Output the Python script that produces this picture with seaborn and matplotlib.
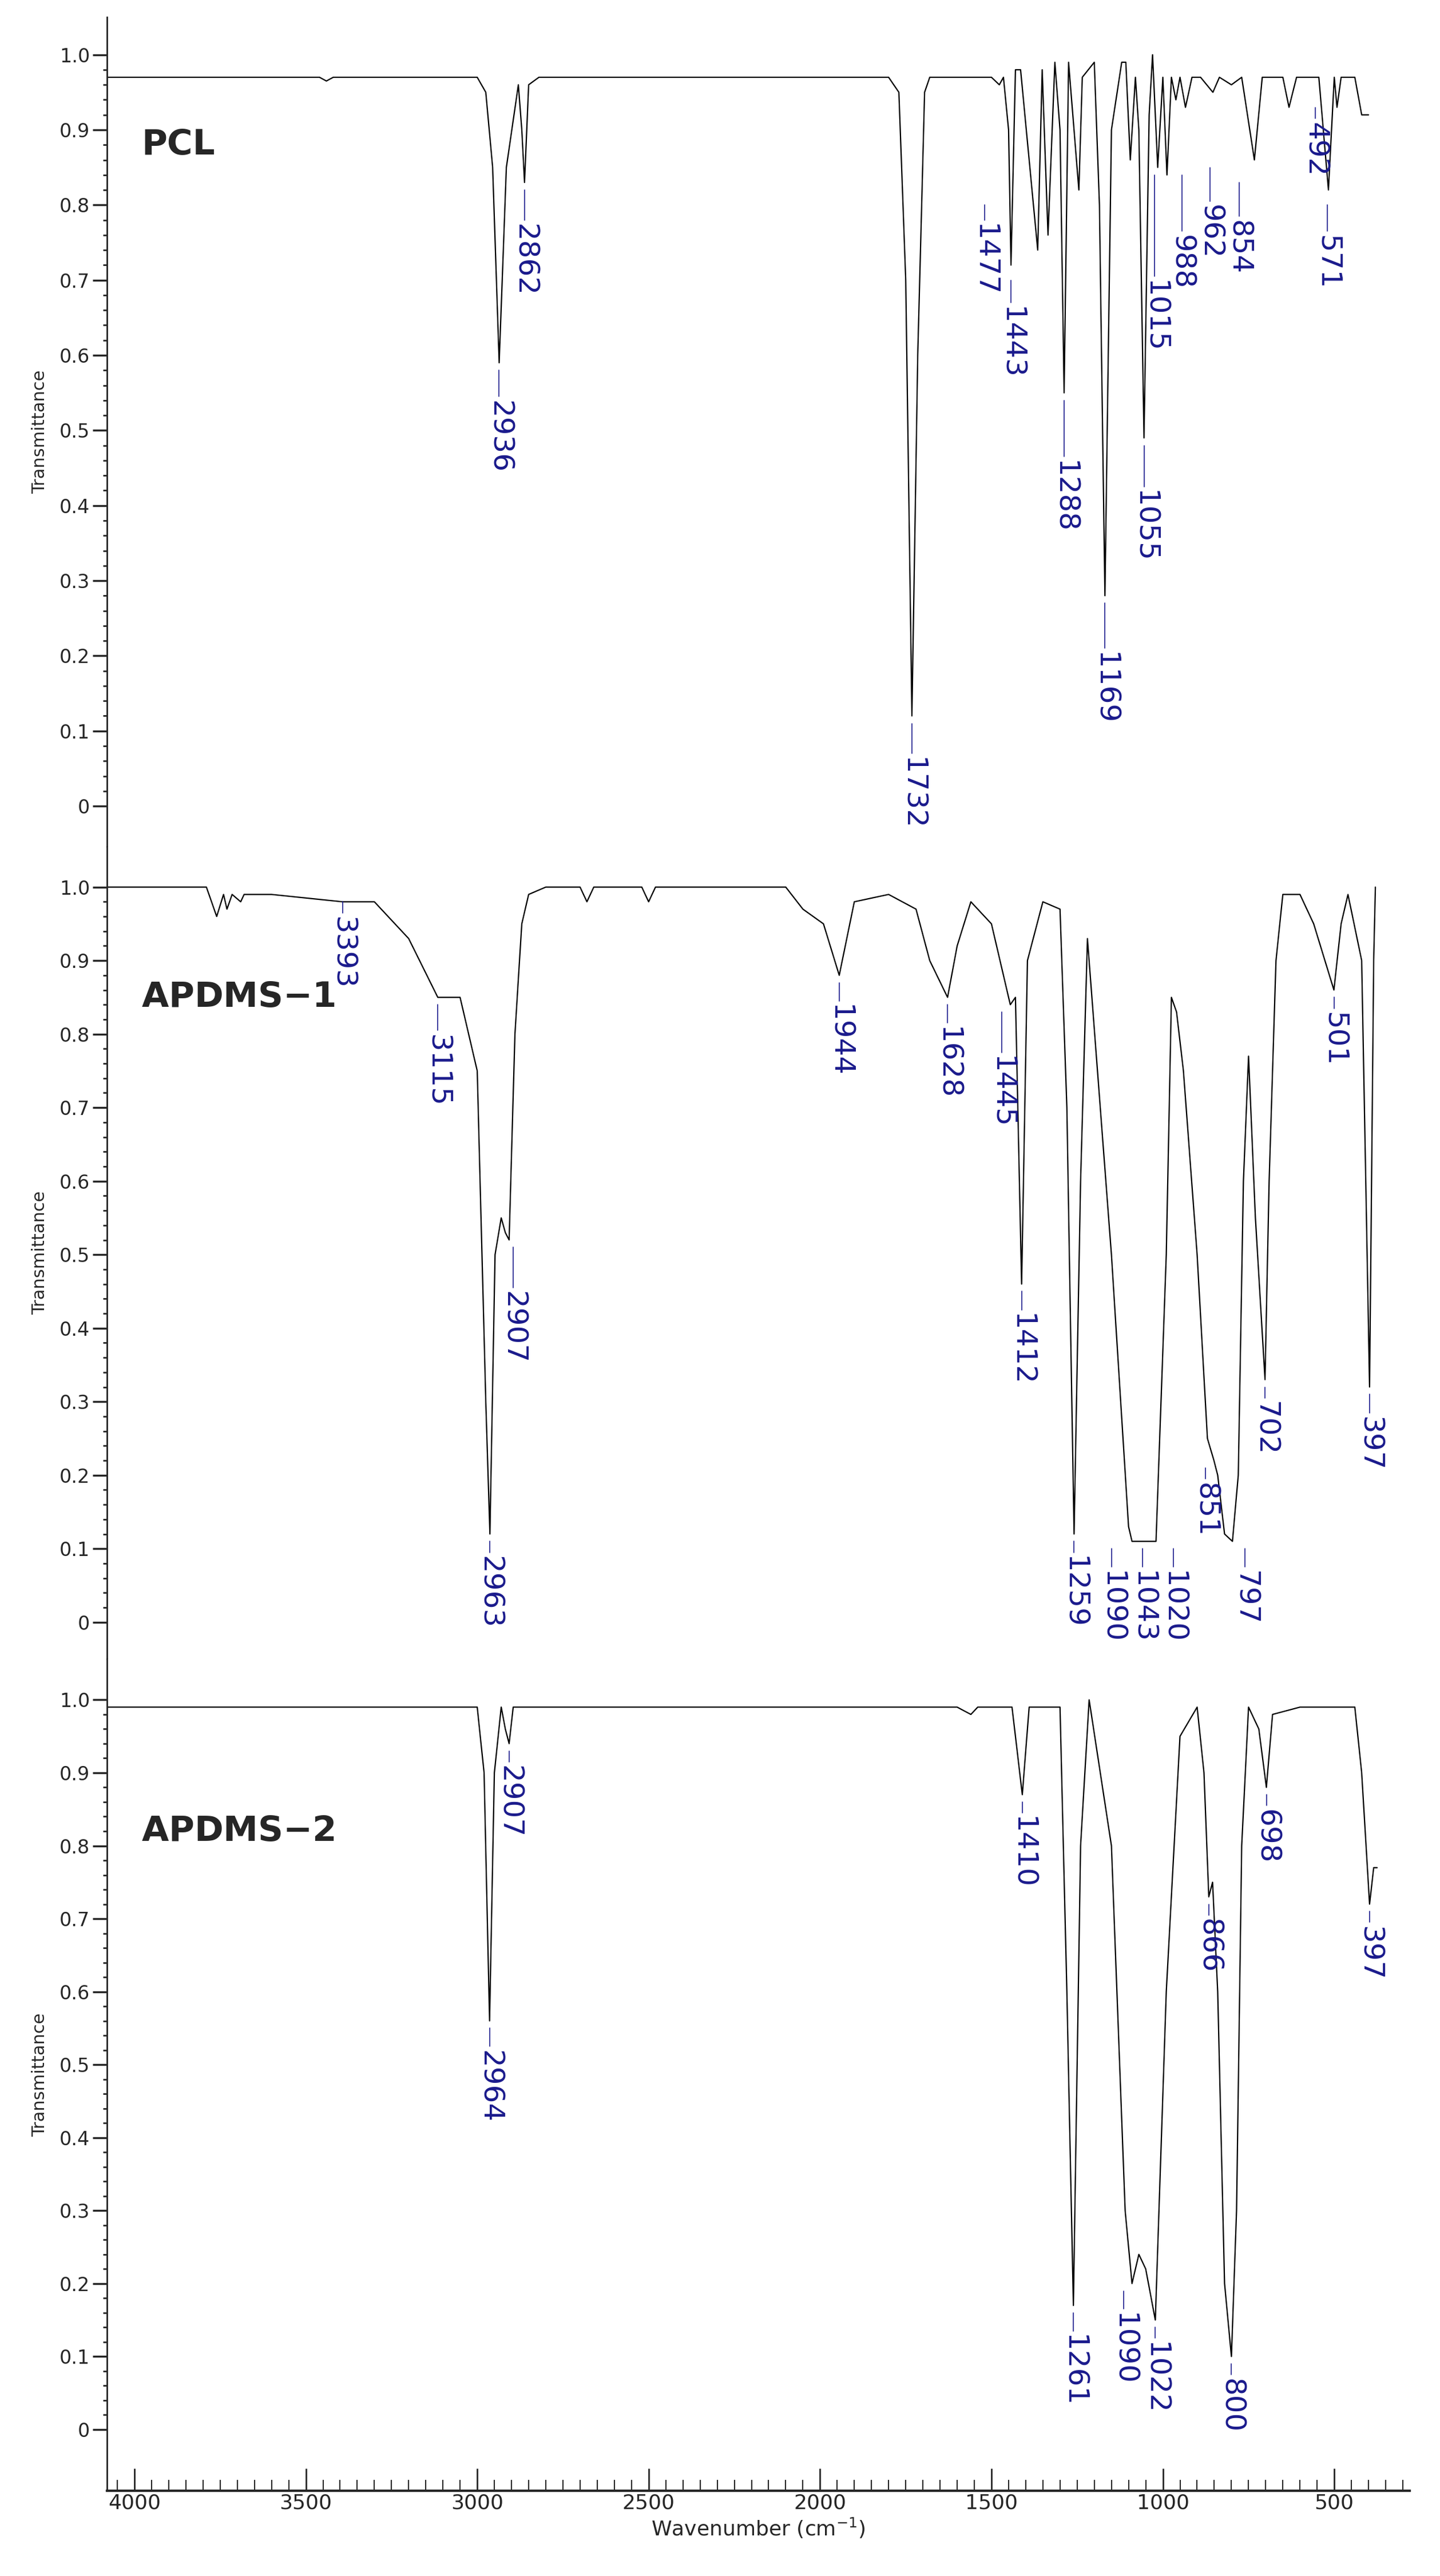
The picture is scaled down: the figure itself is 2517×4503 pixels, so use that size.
import matplotlib
matplotlib.use("Agg")
import matplotlib.pyplot as plt
import seaborn as sns
import pandas as pd

sns.set_style("ticks")
plt.rcParams['font.family'] = ['Liberation Sans Narrow', 'DejaVu Sans']

# ---- data ----
pcl_wn = [4080, 3460, 3440, 3420, 3000, 2975, 2955, 2936, 2915, 2880, 2870, 2862, 2850, 2820, 2400, 2200, 1800, 1770,
          1750, 1732, 1715, 1695, 1680, 1500, 1477, 1465, 1450, 1443, 1430, 1415, 1365, 1352, 1335, 1315, 1300, 1288,
          1275, 1245, 1235, 1200, 1185, 1169, 1150, 1120, 1108, 1095, 1080, 1070, 1055, 1040, 1030, 1015, 1000, 988,
          975, 962, 950, 934, 915, 890, 854, 835, 800, 770, 733, 710, 650, 632, 610, 571, 545, 517, 500, 492, 480, 440, 420, 400]
pcl_t = [0.97, 0.97, 0.965, 0.97, 0.97, 0.95, 0.85, 0.59, 0.85, 0.96, 0.90, 0.83, 0.96, 0.97, 0.97, 0.97, 0.97, 0.95,
         0.70, 0.12, 0.60, 0.95, 0.97, 0.97, 0.96, 0.97, 0.90, 0.72, 0.98, 0.98, 0.74, 0.98, 0.76, 0.99, 0.90, 0.55,
         0.99, 0.82, 0.97, 0.99, 0.80, 0.28, 0.90, 0.99, 0.99, 0.86, 0.97, 0.90, 0.49, 0.92, 1.00, 0.85, 0.97, 0.84,
         0.97, 0.94, 0.97, 0.93, 0.97, 0.97, 0.95, 0.97, 0.96, 0.97, 0.86, 0.97, 0.97, 0.93, 0.97, 0.97, 0.97, 0.82, 0.97, 0.93, 0.97, 0.97, 0.92, 0.92]

a1_wn = [4080, 3790, 3760, 3740, 3730, 3715, 3690, 3680, 3600, 3393, 3300, 3200, 3115, 3050, 3000, 2975, 2963, 2948,
         2930, 2918, 2907, 2890, 2870, 2850, 2800, 2700, 2680, 2660, 2520, 2500, 2480, 2100, 2050, 1990, 1944, 1900,
         1800, 1720, 1680, 1628, 1600, 1560, 1500, 1460, 1445, 1430, 1412, 1395, 1350, 1300, 1280, 1259, 1240, 1220,
         1150, 1100, 1090, 1043, 1020, 990, 975, 960, 940, 900, 870, 851, 840, 820, 797, 780, 765, 750, 730, 702,
         690, 670, 650, 600, 560, 501, 480, 460, 420, 397, 385, 380]
a1_t = [1.00, 1.00, 0.96, 0.99, 0.97, 0.99, 0.98, 0.99, 0.99, 0.98, 0.98, 0.93, 0.85, 0.85, 0.75, 0.30, 0.12, 0.50,
        0.55, 0.53, 0.52, 0.80, 0.95, 0.99, 1.00, 1.00, 0.98, 1.00, 1.00, 0.98, 1.00, 1.00, 0.97, 0.95, 0.88, 0.98,
        0.99, 0.97, 0.90, 0.85, 0.92, 0.98, 0.95, 0.87, 0.84, 0.85, 0.46, 0.90, 0.98, 0.97, 0.70, 0.12, 0.60, 0.93,
        0.50, 0.13, 0.11, 0.11, 0.11, 0.50, 0.85, 0.83, 0.75, 0.50, 0.25, 0.22, 0.20, 0.12, 0.11, 0.20, 0.60, 0.77,
        0.55, 0.33, 0.60, 0.90, 0.99, 0.99, 0.95, 0.86, 0.95, 0.99, 0.90, 0.32, 0.90, 1.00]

a2_wn = [4080, 3000, 2980, 2964, 2950, 2930, 2918, 2907, 2895, 2880, 1600, 1560, 1540, 1440, 1410, 1390, 1300, 1280,
         1261, 1240, 1215, 1150, 1110, 1090, 1070, 1050, 1022, 990, 950, 900, 880, 866, 855, 840, 820, 800, 785,
         770, 750, 720, 698, 680, 600, 440, 420, 397, 385, 375]
a2_t = [0.99, 0.99, 0.90, 0.56, 0.90, 0.99, 0.96, 0.94, 0.99, 0.99, 0.99, 0.98, 0.99, 0.99, 0.87, 0.99, 0.99, 0.60,
        0.17, 0.80, 1.00, 0.80, 0.30, 0.20, 0.24, 0.22, 0.15, 0.60, 0.95, 0.99, 0.90, 0.73, 0.75, 0.60, 0.20, 0.10, 0.30,
        0.80, 0.99, 0.96, 0.88, 0.98, 0.99, 0.99, 0.90, 0.72, 0.77, 0.77]

# peak labels: (text, x, text-top y, leader-start y)
pcl_labels = [("2862", 2862, 0.775, 0.82), ("2936", 2936, 0.54, 0.58), ("1477", 1520, 0.775, 0.80),
              ("1443", 1443, 0.665, 0.70), ("1288", 1288, 0.46, 0.54), ("1169", 1169, 0.205, 0.27),
              ("1732", 1732, 0.065, 0.11), ("1055", 1055, 0.42, 0.48), ("1015", 1025, 0.70, 0.84),
              ("988", 945, 0.76, 0.84), ("962", 862, 0.80, 0.85), ("854", 778, 0.78, 0.83),
              ("571", 520, 0.76, 0.80), ("492", 555, 0.91, 0.93)]
a1_labels = [("3393", 3393, 0.96, 0.98), ("3115", 3115, 0.80, 0.84), ("2907", 2895, 0.45, 0.51),
             ("2963", 2963, 0.09, 0.11), ("1944", 1944, 0.84, 0.87), ("1628", 1628, 0.81, 0.84),
             ("1445", 1470, 0.77, 0.83), ("1412", 1412, 0.42, 0.45), ("1259", 1259, 0.09, 0.11),
             ("1090", 1150, 0.07, 0.10), ("1043", 1060, 0.07, 0.10), ("1020", 970, 0.07, 0.10),
             ("851", 875, 0.19, 0.21), ("797", 760, 0.07, 0.10), ("702", 702, 0.30, 0.32),
             ("501", 501, 0.83, 0.85), ("397", 397, 0.28, 0.31)]
a2_labels = [("2907", 2907, 0.91, 0.93), ("2964", 2964, 0.52, 0.55), ("1410", 1410, 0.84, 0.86),
             ("1261", 1261, 0.13, 0.16), ("1090", 1115, 0.16, 0.19), ("1022", 1022, 0.12, 0.14),
             ("866", 866, 0.70, 0.72), ("800", 800, 0.07, 0.09), ("698", 698, 0.85, 0.87),
             ("397", 397, 0.69, 0.71)]

panels = [("PCL", pcl_wn, pcl_t, pcl_labels, 0.88, (-0.054, 1.05)),
          ("APDMS$\\mathbf{-}$1", a1_wn, a1_t, a1_labels, 0.85, (-0.05, 1.055)),
          ("APDMS$\\mathbf{-}$2", a2_wn, a2_t, a2_labels, 0.82, (-0.084, 1.056))]

W, H = 2517, 4503
fig = plt.figure(figsize=(W / 100, H / 100), dpi=100)
bounds = [(30, 1480), (1480, 2900), (2900, 4354)]
left, right = 187 / W, 2464 / W
navy = "#1a1a8c"
for i, (name, wn, t, labels, ny, ylim) in enumerate(panels):
    top, bot = bounds[i]
    ax = fig.add_axes([left, 1 - bot / H, right - left, (bot - top) / H])
    df = pd.DataFrame({"wn": wn, "t": t})
    sns.lineplot(data=df, x="wn", y="t", ax=ax, color="black", lw=1.6, sort=False, estimator=None)
    ax.set_xlim(4080, 280)
    ax.set_ylim(*ylim)
    for s in ["top", "right"]:
        ax.spines[s].set_visible(False)
    ax.spines["left"].set_linewidth(2)
    ax.set_yticks([0, 0.1, 0.2, 0.3, 0.4, 0.5, 0.6, 0.7, 0.8, 0.9, 1.0])
    ax.set_yticklabels(["0", "0.1", "0.2", "0.3", "0.4", "0.5", "0.6", "0.7", "0.8", "0.9", "1.0"], fontsize=24)
    ax.set_yticks([k / 50 for k in range(0, 51)], minor=True)
    ax.tick_params(axis="y", which="major", length=18, width=2.5)
    ax.tick_params(axis="y", which="minor", length=5, width=2)
    ax.set_ylabel("Transmittance", fontsize=22, family="DejaVu Sans")
    ax.yaxis.set_label_coords(-0.045, 0.5)
    if i < 2:
        ax.spines["bottom"].set_visible(False)
        ax.tick_params(axis="x", bottom=False, labelbottom=False)
        ax.set_xlabel("")
    else:
        ax.spines["bottom"].set_linewidth(3)
        ax.set_xticks([4000, 3500, 3000, 2500, 2000, 1500, 1000, 500])
        ax.set_xticklabels(["4000", "3500", "3000", "2500", "2000", "1500", "1000", "500"], fontsize=26)
        ax.set_xticks(list(range(4050, 299, -50)), minor=True)
        ax.tick_params(axis="x", which="major", length=28, width=2, direction="in")
        ax.tick_params(axis="x", which="minor", length=14, width=1.5, direction="in")
        ax.set_xlabel("Wavenumber (cm$^{-1}$)", fontsize=26)
    ax.text(3980, ny, name, fontsize=44, fontweight="bold", family="DejaVu Sans", va="center", ha="left")
    for txt, x, ytop, ystart in labels:
        ax.plot([x, x], [ystart, ytop + 0.005], color=navy, lw=1.2)
        ax.text(x, ytop, txt, rotation=270, ha="center", va="top", fontsize=36, color=navy, family="DejaVu Sans")

fig.savefig("out.png", dpi=100)
